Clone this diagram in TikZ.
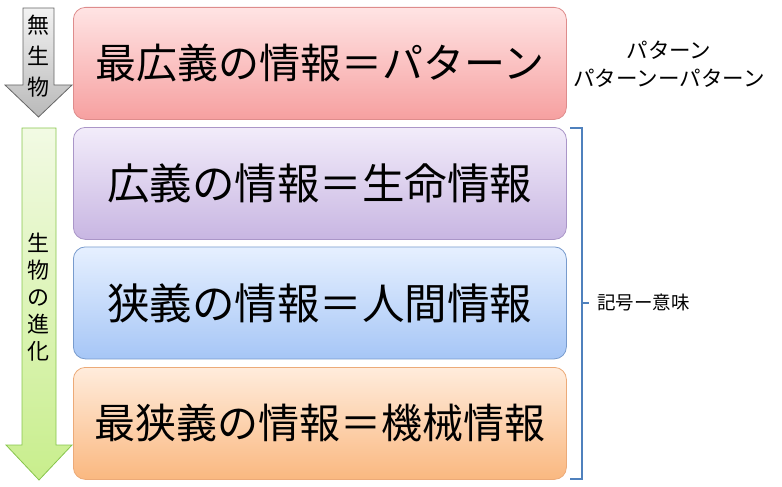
\documentclass[tikz,border=0pt]{standalone}
\usepackage{fontspec}
\setmainfont{Noto Sans CJK JP}
\begin{document}
\begin{tikzpicture}[x=1pt,y=-1pt,
  infobox/.style={draw, line width=0.8pt, rounded corners=12pt, minimum width=493pt, minimum height=112pt, anchor=north west, inner sep=0pt},
  longtext/.style={font=\fontsize{41}{44}\selectfont},
  shorttext/.style={font=\fontsize{42.5}{46}\selectfont},
  arrowtext/.style={align=center, inner sep=0pt}]
\useasboundingbox (0,0) rectangle (782,487);
% left arrows
\draw[draw=gray!80!black, line width=0.8pt, top color=gray!10, bottom color=gray!55]
  (23,8) -- (54,8) -- (54,85) -- (72,85) -- (38.5,117) -- (5,85) -- (23,85) -- cycle;
\draw[draw=green!35!olive!70, line width=0.8pt, top color={rgb,255:red,242;green,250;blue,228}, bottom color={rgb,255:red,200;green,238;blue,140}]
  (22,128) -- (56,128) -- (56,445) -- (72,445) -- (39,480) -- (6,445) -- (22,445) -- cycle;
\node[arrowtext, font=\fontsize{22}{31}\selectfont] (nonlife) at (38.5,56) {無\\生\\物};
\node[arrowtext, font=\fontsize{22}{27}\selectfont] (evo) at (38.5,297) {生\\物\\の\\進\\化};
% boxes
\node[infobox, longtext, draw={rgb,255:red,222;green,140;blue,140}, top color={rgb,255:red,255;green,228;blue,228}, bottom color={rgb,255:red,246;green,160;blue,160}] (b1) at (73,7) {最広義の情報＝パターン};
\node[infobox, shorttext, draw={rgb,255:red,170;green,150;blue,200}, top color={rgb,255:red,242;green,236;blue,250}, bottom color={rgb,255:red,200;green,182;blue,226}] (b2) at (73,127) {広義の情報＝生命情報};
\node[infobox, shorttext, draw={rgb,255:red,120;green,155;blue,205}, top color={rgb,255:red,230;green,240;blue,255}, bottom color={rgb,255:red,166;green,198;blue,246}] (b3) at (73,246.5) {狭義の情報＝人間情報};
\node[infobox, longtext, draw={rgb,255:red,236;green,170;blue,120}, top color={rgb,255:red,255;green,236;blue,220}, bottom color={rgb,255:red,250;green,184;blue,128}] (b4) at (73,367) {最狭義の情報＝機械情報};
% bracket
\coordinate (bt) at (570,128);
\coordinate (bb) at (570,479);
\coordinate (bm) at (582,303);
\coordinate (tick) at (589,303);
\draw[line width=2.7pt, color={rgb,255:red,79;green,129;blue,189}] (bt) -- (582,128) -- (582,479) -- (bb);
\draw[line width=2.7pt, color={rgb,255:red,79;green,129;blue,189}] (bm) -- (tick);
\node[font=\fontsize{18.5}{22}\selectfont, anchor=west, inner sep=0pt] (sign) at (597,302) {記号ー意味};
\node[font=\fontsize{21.5}{28.5}\selectfont, align=center, inner sep=0pt] (pat) at (669,64) {パターン\\パターンーパターン};
\end{tikzpicture}
\end{document}
